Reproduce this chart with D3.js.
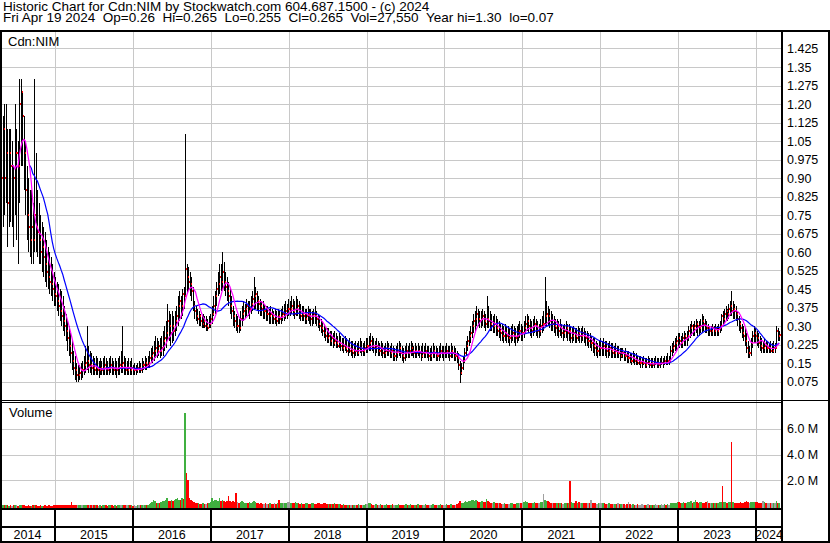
<!DOCTYPE html>
<html>
<head>
<meta charset="utf-8">
<script src="https://cdn.jsdelivr.net/npm/d3@7"></script>
<style>
  body { margin: 0; background: #fff; }
  text { font-family: Arial, "Liberation Sans", sans-serif; font-size: 12.5px; fill: #000; }
  .title { font-size: 13.5px; }
  .panel { font-size: 13px; }
</style>
</head>
<body>
<div id="chart"></div>
<script>
const W = 830, H = 543;

const titleLine1 = "Historic Chart for Cdn:NIM by Stockwatch.com 604.687.1500 - (c) 2024";
const titleFields = ["Fri Apr 19 2024", "Op=0.26", "Hi=0.265", "Lo=0.255", "Cl=0.265", "Vol=27,550", "Year hi=1.30", "lo=0.07"];
const symbol = "Cdn:NIM";

const priceTicks = [0.075, 0.15, 0.225, 0.3, 0.375, 0.45, 0.525, 0.6, 0.675, 0.75, 0.825, 0.9, 0.975, 1.05, 1.125, 1.2, 1.275, 1.35, 1.425];
const priceTickLabels = ["0.075", "0.15", "0.225", "0.30", "0.375", "0.45", "0.525", "0.60", "0.675", "0.75", "0.825", "0.90", "0.975", "1.05", "1.125", "1.20", "1.275", "1.35", "1.425"];
const volumeTicks = [2, 4, 6];
const volumeTickLabels = ["2.0 M", "4.0 M", "6.0 M"];
const years = [2014, 2015, 2016, 2017, 2018, 2019, 2020, 2021, 2022, 2023, 2024];

// weekly bars: [high, low, close, volume in millions]
const bars2014 = [
  [1.20,0.60,0.90,0.05],[1.15,0.70,1.10,0.04],[1.20,0.75,0.90,0.05],[1.20,0.80,1.00,0.04],
  [1.10,0.62,0.80,0.05],[1.10,0.70,1.00,0.03],[1.10,0.72,0.95,0.04],[1.05,0.70,0.95,0.03],
  [0.95,0.62,0.90,0.04],[1.20,0.75,1.00,0.05],[1.10,0.65,1.00,0.04],[1.05,0.55,0.95,0.03],
  [1.30,0.80,1.20,0.06],[1.30,0.95,1.25,0.05],[1.25,0.95,1.15,0.04],[1.15,0.85,1.00,0.04],
  [1.05,0.75,0.85,0.03],[0.95,0.65,0.75,0.03],[0.90,0.60,0.70,0.04],[0.85,0.58,0.65,0.03],
  [0.85,0.55,0.70,0.03],[0.80,0.55,0.65,0.04],[1.30,0.60,0.75,0.05],[1.00,0.60,0.70,0.04],
  [0.85,0.58,0.68,0.03],[0.80,0.55,0.65,0.03],[0.75,0.55,0.60,0.04],[0.72,0.52,0.62,0.03],
  [0.70,0.50,0.58,0.03],[0.68,0.48,0.55,0.04],[0.65,0.46,0.52,0.03],[0.62,0.45,0.50,0.03],
  [0.60,0.43,0.48,0.04],[0.58,0.42,0.47,0.03],[0.55,0.40,0.45,0.03],[0.52,0.38,0.43,0.04]
];
const bars2015 = [
  [0.50,0.38,0.42,0.05],[0.48,0.36,0.40,0.05],[0.47,0.34,0.38,0.04],[0.45,0.32,0.36,0.05],
  [0.44,0.30,0.34,0.04],[0.42,0.28,0.32,0.05],[0.38,0.26,0.30,0.04],[0.35,0.24,0.28,0.05],
  [0.32,0.20,0.25,0.06],[0.30,0.18,0.22,0.05],[0.27,0.15,0.19,0.06],[0.24,0.12,0.16,0.30],
  [0.20,0.10,0.13,0.06],[0.18,0.08,0.12,0.05],[0.15,0.075,0.10,0.04],[0.14,0.075,0.10,0.04],
  [0.14,0.08,0.11,0.05],[0.15,0.08,0.12,0.04],[0.16,0.09,0.12,0.05],[0.18,0.10,0.14,0.06],
  [0.22,0.11,0.15,0.08],[0.30,0.12,0.16,0.10],[0.22,0.11,0.14,0.08],[0.20,0.11,0.14,0.10],
  [0.19,0.10,0.13,0.10],[0.18,0.10,0.13,0.08],[0.17,0.10,0.12,0.05],[0.18,0.10,0.13,0.04],
  [0.17,0.10,0.12,0.04],[0.16,0.09,0.12,0.03],[0.17,0.10,0.13,0.04],[0.16,0.10,0.12,0.03],
  [0.17,0.10,0.13,0.04],[0.18,0.10,0.14,0.05],[0.17,0.10,0.13,0.04],[0.16,0.10,0.12,0.03],
  [0.17,0.10,0.13,0.04],[0.18,0.11,0.14,0.05],[0.17,0.10,0.13,0.04],[0.16,0.10,0.12,0.03],
  [0.17,0.10,0.13,0.04],[0.16,0.09,0.12,0.03],[0.17,0.10,0.13,0.04],[0.18,0.10,0.14,0.05],
  [0.20,0.11,0.14,0.06],[0.30,0.11,0.15,0.08],[0.18,0.10,0.13,0.05],[0.17,0.10,0.12,0.04],
  [0.16,0.10,0.12,0.04],[0.17,0.10,0.13,0.05],[0.16,0.10,0.12,0.04],[0.17,0.10,0.13,0.05]
];
const bars2016 = [
  [0.14,0.10,0.12,0.03],[0.15,0.10,0.12,0.04],[0.14,0.10,0.12,0.03],[0.15,0.11,0.13,0.05],
  [0.16,0.11,0.13,0.04],[0.15,0.11,0.12,0.05],[0.17,0.11,0.14,0.06],[0.16,0.12,0.14,0.05],
  [0.18,0.12,0.15,0.08],[0.17,0.12,0.14,0.06],[0.18,0.13,0.15,0.10],[0.20,0.13,0.17,0.15],
  [0.21,0.15,0.18,0.20],[0.22,0.15,0.19,0.30],[0.24,0.16,0.20,0.45],[0.26,0.17,0.21,0.35],
  [0.25,0.17,0.20,0.20],[0.24,0.18,0.22,0.25],[0.25,0.17,0.20,0.20],[0.26,0.18,0.21,0.30],
  [0.28,0.18,0.24,0.35],[0.30,0.20,0.25,0.40],[0.32,0.21,0.27,0.45],[0.39,0.24,0.32,0.60],
  [0.36,0.24,0.30,0.40],[0.35,0.22,0.27,0.35],[0.36,0.23,0.30,0.45],[0.34,0.24,0.28,0.35],
  [0.36,0.26,0.32,0.50],[0.38,0.28,0.34,0.55],[0.42,0.30,0.38,0.60],[0.44,0.32,0.40,0.50],
  [0.42,0.33,0.38,0.45],[0.45,0.34,0.43,0.60],[0.46,0.37,0.42,0.55],[1.08,0.42,0.53,7.20],
  [0.55,0.43,0.50,2.60],[0.54,0.44,0.48,2.00],[0.52,0.42,0.47,0.60],[0.50,0.40,0.44,0.45],
  [0.46,0.36,0.38,0.40],[0.40,0.33,0.36,0.30],[0.38,0.32,0.34,0.25],[0.37,0.31,0.33,0.20],
  [0.36,0.30,0.34,0.20],[0.35,0.30,0.32,0.15],[0.34,0.29,0.31,0.15],[0.35,0.29,0.32,0.20],
  [0.34,0.29,0.30,0.15],[0.34,0.28,0.30,0.15],[0.33,0.28,0.29,0.20],[0.34,0.29,0.31,0.20],
  [0.35,0.29,0.33,0.30]
];
const bars2017 = [
  [0.38,0.31,0.35,0.60],[0.42,0.34,0.38,0.40],[0.44,0.35,0.42,0.45],[0.48,0.38,0.45,0.50],
  [0.52,0.42,0.47,0.40],[0.55,0.43,0.50,0.60],[0.55,0.44,0.48,0.35],[0.60,0.45,0.52,0.50],
  [0.56,0.44,0.48,0.40],[0.52,0.42,0.46,0.30],[0.50,0.40,0.44,0.35],[0.48,0.38,0.42,0.75],
  [0.45,0.35,0.38,0.40],[0.42,0.33,0.36,0.30],[0.38,0.30,0.34,0.35],[0.36,0.29,0.32,0.30],
  [0.35,0.28,0.30,1.00],[0.34,0.27,0.30,0.30],[0.33,0.27,0.29,0.25],[0.36,0.28,0.33,0.30],
  [0.38,0.30,0.35,0.35],[0.40,0.32,0.36,0.30],[0.39,0.33,0.37,0.20],[0.41,0.34,0.38,0.25],
  [0.40,0.34,0.36,0.20],[0.40,0.33,0.37,0.30],[0.42,0.35,0.39,0.25],[0.44,0.36,0.41,0.30],
  [0.50,0.37,0.42,0.40],[0.46,0.37,0.43,0.30],[0.44,0.36,0.40,0.25],[0.42,0.35,0.39,0.20],
  [0.41,0.34,0.38,0.15],[0.40,0.34,0.37,0.20],[0.40,0.33,0.36,0.15],[0.39,0.33,0.36,0.15],
  [0.38,0.32,0.35,0.20],[0.38,0.32,0.35,0.15],[0.37,0.31,0.34,0.15],[0.38,0.31,0.35,0.20],
  [0.37,0.31,0.34,0.15],[0.36,0.31,0.33,0.15],[0.37,0.31,0.33,0.20],[0.36,0.30,0.32,0.15],
  [0.37,0.31,0.34,0.20],[0.36,0.31,0.33,0.50],[0.37,0.31,0.34,0.20],[0.38,0.32,0.35,0.25],
  [0.39,0.32,0.35,0.20],[0.40,0.33,0.36,0.25],[0.39,0.33,0.37,0.20],[0.41,0.34,0.37,0.30]
];
const bars2018 = [
  [0.40,0.34,0.37,0.30],[0.42,0.35,0.38,0.25],[0.41,0.34,0.36,0.20],[0.40,0.33,0.35,0.25],
  [0.42,0.34,0.37,0.30],[0.41,0.34,0.38,0.20],[0.40,0.33,0.35,0.20],[0.39,0.32,0.34,0.15],
  [0.38,0.32,0.35,0.20],[0.38,0.32,0.34,0.15],[0.37,0.31,0.33,0.15],[0.37,0.31,0.34,0.20],
  [0.38,0.32,0.35,0.20],[0.37,0.31,0.34,0.15],[0.37,0.30,0.33,0.15],[0.36,0.30,0.34,0.20],
  [0.37,0.31,0.35,0.20],[0.38,0.31,0.34,0.15],[0.36,0.30,0.33,0.15],[0.35,0.29,0.31,0.20],
  [0.34,0.28,0.30,0.20],[0.33,0.27,0.29,0.15],[0.32,0.26,0.28,0.15],[0.31,0.25,0.27,0.20],
  [0.30,0.24,0.26,0.20],[0.29,0.23,0.25,0.15],[0.29,0.23,0.26,0.15],[0.28,0.22,0.24,0.15],
  [0.28,0.22,0.25,0.15],[0.27,0.21,0.23,0.15],[0.28,0.22,0.24,0.20],[0.27,0.21,0.23,0.15],
  [0.26,0.21,0.22,0.15],[0.27,0.21,0.23,0.15],[0.26,0.20,0.22,0.15],[0.25,0.20,0.21,0.10],
  [0.25,0.19,0.22,0.15],[0.26,0.20,0.21,0.10],[0.25,0.19,0.20,0.10],[0.24,0.18,0.21,0.10],
  [0.25,0.19,0.20,0.10],[0.24,0.18,0.20,0.10],[0.24,0.17,0.19,0.10],[0.23,0.17,0.20,0.10],
  [0.24,0.18,0.20,0.10],[0.23,0.18,0.19,0.10],[0.24,0.18,0.21,0.15],[0.25,0.19,0.21,0.10],
  [0.24,0.18,0.20,0.10],[0.23,0.18,0.20,0.10],[0.24,0.18,0.21,0.10],[0.25,0.19,0.22,0.15]
];
const bars2019 = [
  [0.25,0.19,0.22,0.15],[0.26,0.20,0.23,0.20],[0.27,0.20,0.24,0.25],[0.26,0.20,0.22,0.15],
  [0.25,0.19,0.21,0.10],[0.24,0.18,0.21,0.10],[0.25,0.19,0.22,0.15],[0.24,0.18,0.20,0.10],
  [0.23,0.18,0.20,0.10],[0.24,0.18,0.21,0.12],[0.23,0.17,0.19,0.10],[0.22,0.17,0.19,0.08],
  [0.23,0.17,0.20,0.10],[0.24,0.18,0.21,0.15],[0.23,0.18,0.20,0.10],[0.22,0.17,0.19,0.08],
  [0.23,0.17,0.20,0.10],[0.22,0.16,0.18,0.12],[0.21,0.16,0.18,0.08],[0.22,0.16,0.19,0.10],
  [0.23,0.17,0.20,0.10],[0.24,0.18,0.21,0.15],[0.23,0.17,0.19,0.10],[0.22,0.16,0.18,0.10],
  [0.21,0.15,0.17,0.08],[0.22,0.16,0.19,0.10],[0.23,0.17,0.20,0.12],[0.22,0.17,0.19,0.10],
  [0.23,0.17,0.20,0.10],[0.24,0.18,0.21,0.15],[0.23,0.18,0.20,0.10],[0.22,0.17,0.19,0.08],
  [0.23,0.17,0.20,0.10],[0.22,0.17,0.19,0.10],[0.23,0.18,0.20,0.12],[0.22,0.17,0.19,0.10],
  [0.22,0.16,0.18,0.08],[0.23,0.17,0.19,0.10],[0.22,0.17,0.19,0.10],[0.23,0.17,0.20,0.12],
  [0.22,0.17,0.19,0.10],[0.22,0.16,0.18,0.08],[0.21,0.16,0.18,0.08],[0.22,0.16,0.19,0.10],
  [0.23,0.17,0.20,0.12],[0.22,0.17,0.19,0.10],[0.22,0.16,0.18,0.10],[0.21,0.16,0.18,0.08],
  [0.22,0.16,0.19,0.10],[0.23,0.17,0.20,0.12],[0.22,0.17,0.19,0.10],[0.22,0.16,0.19,0.10]
];
const bars2020 = [
  [0.22,0.17,0.19,0.10],[0.23,0.17,0.20,0.15],[0.22,0.17,0.19,0.10],[0.22,0.16,0.18,0.10],
  [0.23,0.17,0.20,0.15],[0.22,0.17,0.19,0.10],[0.22,0.16,0.18,0.10],[0.21,0.16,0.18,0.10],
  [0.20,0.15,0.17,0.12],[0.19,0.12,0.14,0.20],[0.16,0.07,0.11,0.35],[0.15,0.10,0.13,0.20],
  [0.18,0.12,0.16,0.25],[0.21,0.15,0.19,0.30],[0.24,0.18,0.22,0.35],[0.26,0.20,0.24,0.30],
  [0.28,0.22,0.26,0.40],[0.30,0.23,0.27,0.35],[0.32,0.25,0.30,0.45],[0.35,0.27,0.32,0.50],
  [0.36,0.28,0.33,0.40],[0.38,0.30,0.35,0.45],[0.37,0.30,0.33,0.35],[0.36,0.29,0.32,0.30],
  [0.36,0.29,0.33,0.30],[0.37,0.30,0.34,0.35],[0.36,0.29,0.32,0.30],[0.35,0.28,0.31,0.30],
  [0.42,0.29,0.33,0.55],[0.38,0.29,0.32,0.40],[0.36,0.28,0.31,0.30],[0.35,0.28,0.30,0.25],
  [0.34,0.27,0.30,0.25],[0.35,0.27,0.31,0.30],[0.34,0.26,0.29,0.25],[0.33,0.26,0.28,0.20],
  [0.32,0.25,0.28,0.20],[0.31,0.24,0.27,0.20],[0.31,0.24,0.26,0.15],[0.30,0.23,0.26,0.15],
  [0.31,0.24,0.27,0.20],[0.30,0.23,0.26,0.15],[0.30,0.23,0.25,0.15],[0.29,0.22,0.25,0.15],
  [0.30,0.23,0.26,0.20],[0.31,0.24,0.27,0.20],[0.30,0.23,0.26,0.15],[0.29,0.22,0.25,0.15],
  [0.30,0.23,0.26,0.20],[0.31,0.24,0.28,0.25],[0.32,0.25,0.28,0.20],[0.31,0.24,0.27,0.20]
];
const bars2021 = [
  [0.30,0.24,0.27,0.20],[0.32,0.25,0.29,0.30],[0.34,0.27,0.31,0.35],[0.35,0.28,0.32,0.30],
  [0.34,0.27,0.30,0.25],[0.33,0.26,0.29,0.20],[0.32,0.25,0.28,0.20],[0.33,0.26,0.30,0.25],
  [0.34,0.27,0.31,0.30],[0.33,0.26,0.30,0.25],[0.32,0.25,0.28,0.20],[0.31,0.25,0.28,0.20],
  [0.33,0.26,0.30,0.30],[0.34,0.27,0.31,0.30],[0.36,0.28,0.31,0.90],[0.50,0.30,0.34,0.50],
  [0.40,0.30,0.35,0.40],[0.38,0.30,0.34,0.35],[0.37,0.29,0.32,0.30],[0.36,0.28,0.31,0.25],
  [0.35,0.28,0.31,0.25],[0.34,0.27,0.30,0.20],[0.33,0.26,0.29,0.20],[0.33,0.26,0.30,0.20],
  [0.32,0.25,0.28,0.20],[0.33,0.26,0.29,0.20],[0.31,0.25,0.27,0.20],[0.30,0.24,0.27,0.15],
  [0.31,0.25,0.28,0.20],[0.32,0.25,0.29,0.20],[0.31,0.24,0.27,0.20],[0.31,0.24,0.28,0.20],
  [0.30,0.23,0.25,1.95],[0.29,0.23,0.26,0.30],[0.30,0.24,0.27,0.20],[0.29,0.23,0.26,0.20],
  [0.29,0.23,0.25,0.35],[0.30,0.24,0.27,0.20],[0.29,0.23,0.26,0.30],[0.29,0.23,0.26,0.20],
  [0.30,0.24,0.27,0.20],[0.29,0.23,0.26,0.20],[0.28,0.22,0.25,0.20],[0.28,0.22,0.24,0.20],
  [0.27,0.21,0.24,0.20],[0.27,0.21,0.23,0.20],[0.26,0.20,0.23,0.50],[0.25,0.19,0.22,0.20],
  [0.25,0.18,0.21,0.20],[0.24,0.18,0.20,0.20],[0.23,0.17,0.20,0.15],[0.24,0.18,0.21,0.20],
  [0.25,0.18,0.21,0.20]
];
const bars2022 = [
  [0.24,0.18,0.21,0.20],[0.25,0.18,0.22,0.20],[0.24,0.18,0.21,0.20],[0.24,0.17,0.20,0.15],
  [0.23,0.17,0.20,0.15],[0.24,0.18,0.21,0.20],[0.23,0.17,0.20,0.15],[0.23,0.17,0.19,0.15],
  [0.22,0.17,0.19,0.15],[0.23,0.17,0.20,0.15],[0.22,0.17,0.19,0.15],[0.22,0.17,0.19,0.25],
  [0.21,0.16,0.18,0.15],[0.21,0.17,0.19,0.15],[0.21,0.17,0.19,0.15],[0.20,0.16,0.18,0.15],
  [0.21,0.16,0.18,0.10],[0.20,0.15,0.17,0.15],[0.20,0.15,0.17,0.30],[0.19,0.15,0.16,0.15],
  [0.19,0.14,0.16,0.10],[0.20,0.15,0.17,0.15],[0.19,0.14,0.16,0.10],[0.19,0.14,0.16,0.10],
  [0.18,0.14,0.15,0.15],[0.18,0.14,0.15,0.10],[0.18,0.13,0.15,0.10],[0.17,0.13,0.15,0.15],
  [0.18,0.14,0.15,0.10],[0.17,0.13,0.14,0.10],[0.17,0.13,0.15,0.10],[0.18,0.14,0.15,0.15],
  [0.17,0.13,0.14,0.10],[0.17,0.13,0.15,0.10],[0.17,0.13,0.14,0.10],[0.17,0.13,0.15,0.10],
  [0.18,0.14,0.15,0.15],[0.17,0.13,0.15,0.10],[0.17,0.13,0.14,0.10],[0.17,0.13,0.15,0.10],
  [0.18,0.14,0.15,0.15],[0.17,0.13,0.15,0.10],[0.18,0.14,0.16,0.15],[0.18,0.14,0.15,0.10],
  [0.19,0.14,0.16,0.15],[0.18,0.14,0.16,0.10],[0.22,0.16,0.20,0.25],[0.23,0.18,0.21,0.20],
  [0.24,0.19,0.22,0.20],[0.25,0.20,0.23,0.25],[0.26,0.20,0.24,0.20],[0.27,0.21,0.25,0.30]
];
const bars2023 = [
  [0.27,0.21,0.24,0.30],[0.26,0.21,0.23,0.20],[0.27,0.21,0.25,0.25],[0.28,0.22,0.26,0.30],
  [0.27,0.22,0.25,0.20],[0.28,0.22,0.26,0.25],[0.30,0.24,0.28,0.30],[0.31,0.25,0.29,0.30],
  [0.32,0.26,0.30,0.35],[0.31,0.26,0.29,0.25],[0.32,0.26,0.30,0.30],[0.33,0.27,0.31,0.45],
  [0.32,0.26,0.30,0.30],[0.32,0.26,0.29,0.25],[0.33,0.27,0.30,0.30],[0.35,0.27,0.32,0.30],
  [0.34,0.28,0.31,0.25],[0.33,0.27,0.30,0.25],[0.32,0.27,0.29,0.30],[0.31,0.26,0.29,0.35],
  [0.30,0.26,0.28,0.25],[0.30,0.26,0.28,0.20],[0.31,0.26,0.29,0.25],[0.30,0.26,0.28,0.20],
  [0.31,0.26,0.29,0.25],[0.30,0.26,0.28,0.20],[0.31,0.26,0.29,0.25],[0.32,0.27,0.30,0.30],
  [0.35,0.28,0.34,0.30],[0.36,0.30,0.33,1.55],[0.37,0.31,0.35,0.30],[0.38,0.32,0.36,0.30],
  [0.37,0.32,0.35,0.25],[0.39,0.33,0.37,0.30],[0.40,0.34,0.38,0.30],[0.44,0.34,0.36,5.00],
  [0.40,0.33,0.37,0.30],[0.39,0.33,0.36,0.25],[0.38,0.32,0.35,0.25],[0.36,0.30,0.33,0.20],
  [0.34,0.28,0.31,0.25],[0.32,0.27,0.29,0.30],[0.31,0.25,0.27,0.25],[0.30,0.24,0.26,0.25],
  [0.29,0.22,0.24,0.30],[0.27,0.19,0.21,0.35],[0.24,0.17,0.19,0.30],[0.22,0.17,0.19,0.25],
  [0.25,0.18,0.23,0.30],[0.28,0.21,0.26,0.30],[0.30,0.23,0.27,0.30],[0.29,0.23,0.26,0.30]
];
const bars2024 = [
  [0.28,0.22,0.25,0.30],[0.27,0.21,0.23,0.25],[0.26,0.20,0.22,0.20],[0.25,0.19,0.21,0.20],
  [0.24,0.19,0.21,0.40],[0.25,0.19,0.22,0.30],[0.24,0.19,0.21,0.25],[0.24,0.19,0.21,0.20],
  [0.23,0.19,0.21,0.20],[0.24,0.19,0.20,0.20],[0.23,0.19,0.20,0.20],[0.24,0.19,0.21,0.20],
  [0.23,0.19,0.21,0.20],[0.30,0.21,0.28,0.35],[0.29,0.24,0.26,0.25],[0.28,0.24,0.265,0.20]
];
const yearBars = [bars2014, bars2015, bars2016, bars2017, bars2018, bars2019, bars2020, bars2021, bars2022, bars2023, bars2024];

const fastPeriod = 8, slowPeriod = 20;

// scales
const x = d3.scaleTime().domain([new Date(2015, 0, 1), new Date(2024, 0, 1)]).range([55, 756]);
const y = d3.scaleLinear().domain([0, 1.5]).range([400, 30]);
const yVol = d3.scaleLinear().domain([0, 8]).range([506, 403]);
const plotRight = 782;

const bars = [];
yearBars.forEach((rows, k) => {
  const first = k === 0 ? new Date(2014, 3, 25) : d3.timeFriday.ceil(new Date(years[k], 0, 1));
  rows.forEach((r, j) => {
    bars.push({ date: d3.timeFriday.offset(first, j), hi: r[0], lo: r[1], close: r[2], vol: r[3] });
  });
});
bars.forEach((d, i) => {
  const prev = i > 0 ? bars[i - 1].close : d.close;
  d.dir = d.close > prev ? 'up' : d.close < prev ? 'down' : 'flat';
});

function sma(period) {
  const out = [];
  for (let i = period - 1; i < bars.length; i++) {
    out.push({ date: bars[i].date, v: d3.mean(bars.slice(i - period + 1, i + 1), d => d.close) });
  }
  return out;
}

const svg = d3.select('#chart').append('svg')
  .attr('width', W).attr('height', H);

// title (non-breaking spaces keep the wide gaps)
const gap = '\u00a0\u00a0';
svg.append('text').attr('class', 'title').attr('x', 3).attr('y', 11).text(titleLine1);
svg.append('text').attr('class', 'title').attr('x', 3).attr('y', 22).text(titleFields.join(gap));

const grid = svg.append('g').attr('shape-rendering', 'crispEdges').attr('stroke', '#c8c8c8');

// horizontal grid - price
grid.selectAll('.pg').data(priceTicks).join('line')
  .attr('x1', 2).attr('x2', plotRight)
  .attr('y1', d => Math.round(y(d)) + 0.5).attr('y2', d => Math.round(y(d)) + 0.5);
// horizontal grid - volume
grid.selectAll('.vg').data(volumeTicks).join('line')
  .attr('x1', 2).attr('x2', plotRight)
  .attr('y1', d => Math.round(yVol(d)) + 0.5).attr('y2', d => Math.round(yVol(d)) + 0.5);

const yearStarts = years.slice(1).map(yr => new Date(yr, 0, 1));
grid.selectAll('.xg').data(yearStarts).join('line')
  .attr('x1', d => Math.round(x(d)) + 0.5).attr('x2', d => Math.round(x(d)) + 0.5)
  .attr('y1', 32).attr('y2', 509);

// price bars
svg.append('g').attr('fill', '#000').attr('shape-rendering', 'crispEdges')
  .selectAll('rect').data(bars).join('rect')
  .attr('x', d => Math.round(x(d.date)))
  .attr('width', 1)
  .attr('y', d => y(d.hi))
  .attr('height', d => Math.max(1, y(d.lo) - y(d.hi)));

// close ticks
svg.append('g').attr('fill', '#ff0000').attr('shape-rendering', 'crispEdges')
  .selectAll('rect').data(bars).join('rect')
  .attr('x', d => Math.round(x(d.date)) + 1)
  .attr('width', 1)
  .attr('y', d => y(d.close) - 1)
  .attr('height', 2);

// moving averages
const line = d3.line().x(d => x(d.date)).y(d => y(d.v));
svg.append('path').datum(sma(slowPeriod))
  .attr('fill', 'none').attr('stroke', '#0000ff').attr('stroke-width', 1.2).attr('d', line);
svg.append('path').datum(sma(fastPeriod))
  .attr('fill', 'none').attr('stroke', '#ff00ff').attr('stroke-width', 1.2).attr('d', line);

// volume bars
const volColor = { up: '#40b040', down: '#ff0000', flat: '#a0a0a0' };
svg.append('g').attr('shape-rendering', 'crispEdges')
  .selectAll('rect').data(bars).join('rect')
  .attr('x', d => x(d.date) - 0.75)
  .attr('width', 1.5)
  .attr('y', d => yVol(d.vol))
  .attr('height', d => 508 - yVol(d.vol))
  .attr('fill', d => volColor[d.dir]);

// frame
const frame = svg.append('g').attr('shape-rendering', 'crispEdges').attr('fill', '#000');
frame.append('rect').attr('x', 0).attr('y', 30).attr('width', W).attr('height', 2);
frame.append('rect').attr('x', 0).attr('y', 30).attr('width', 2).attr('height', H - 30);
frame.append('rect').attr('x', 781).attr('y', 30).attr('width', 2).attr('height', 512);
frame.append('rect').attr('x', 828).attr('y', 30).attr('width', 2).attr('height', H - 30);
frame.append('rect').attr('x', 0).attr('y', 400).attr('width', W).attr('height', 1);
frame.append('rect').attr('x', 0).attr('y', 402).attr('width', plotRight).attr('height', 1);
frame.append('rect').attr('x', 0).attr('y', 508).attr('width', plotRight).attr('height', 2);
frame.append('rect').attr('x', 0).attr('y', 526).attr('width', plotRight).attr('height', 2);
frame.append('rect').attr('x', 0).attr('y', 541).attr('width', W).attr('height', 2);
frame.selectAll('.yl').data(yearStarts).join('rect')
  .attr('x', d => Math.round(x(d)) - 1).attr('y', 510).attr('width', 2).attr('height', 31);

// panel labels
svg.append('text').attr('class', 'panel').attr('x', 8).attr('y', 46).text(symbol);
svg.append('text').attr('class', 'panel').attr('x', 9).attr('y', 417).text('Volume');

// right axis labels
svg.append('g').selectAll('text').data(priceTicks).join('text')
  .attr('x', 787).attr('y', d => y(d) + 4.5)
  .text((d, i) => priceTickLabels[i]);
svg.append('g').selectAll('text').data(volumeTicks).join('text')
  .attr('x', 787).attr('y', d => yVol(d) + 4.5)
  .text((d, i) => volumeTickLabels[i]);

// year labels
const bounds = [0, ...yearStarts.map(d => x(d)), plotRight];
svg.append('g').selectAll('text').data(years).join('text')
  .attr('x', (d, i) => (bounds[i] + bounds[i + 1]) / 2)
  .attr('y', 539)
  .attr('text-anchor', 'middle')
  .text(d => d);
</script>
</body>
</html>
